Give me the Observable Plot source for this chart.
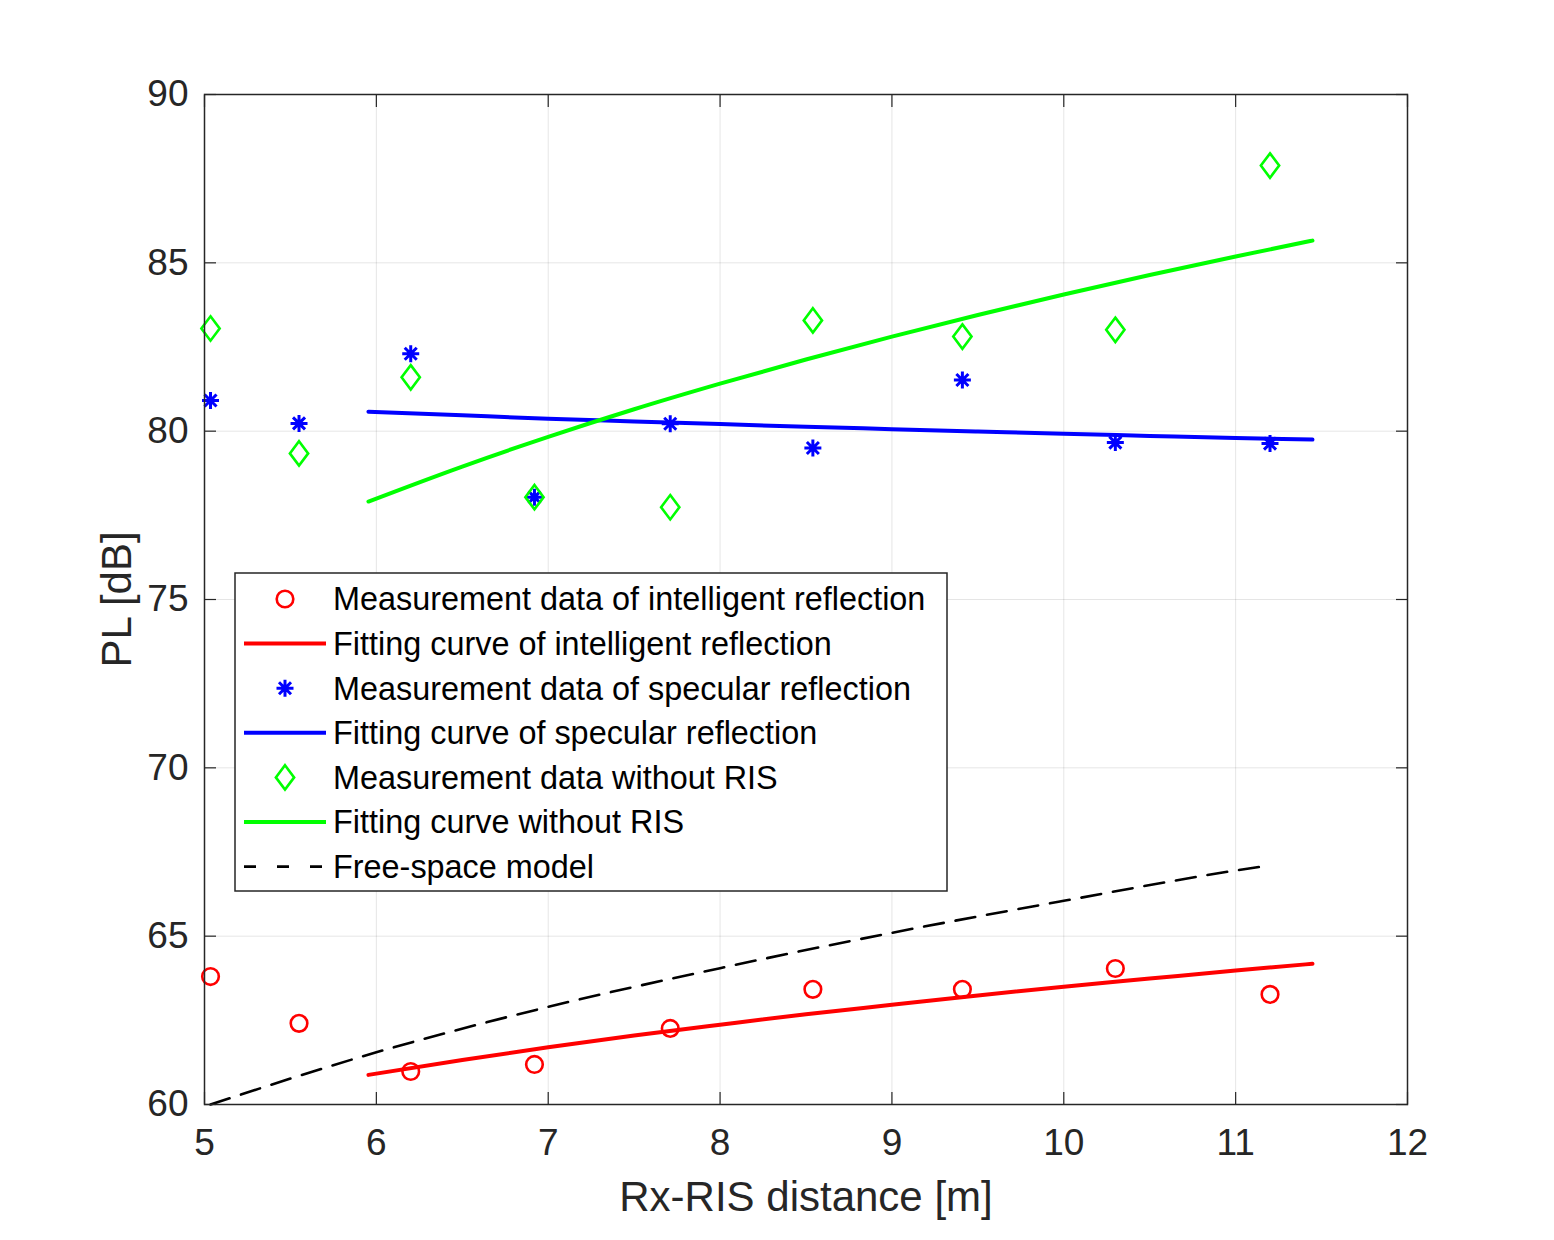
<!DOCTYPE html>
<html>
<head>
<meta charset="utf-8">
<script src="https://cdn.jsdelivr.net/npm/d3@7"></script>
<script src="https://cdn.jsdelivr.net/npm/@observablehq/plot@0.6"></script>
<style>
  html, body { margin: 0; padding: 0; background: #fff; }
  #chart { width: 1554px; height: 1240px; }
</style>
</head>
<body>
<div id="chart"></div>
<script>
// ---- data ----
const xTicks = [5, 6, 7, 8, 9, 10, 11, 12];
const yTicks = [60, 65, 70, 75, 80, 85, 90];

const distance = [5.035, 5.55, 6.2, 6.92, 7.71, 8.54, 9.41, 10.3, 11.2];
const plIntelligent = [63.80, 62.41, 60.98, 61.19, 62.26, 63.42, 63.42, 64.04, 63.27];
const plSpecular = [80.91, 80.23, 82.30, 78.04, 80.22, 79.50, 81.52, 79.66, 79.63];
const plNoRis = [83.05, 79.34, 81.60, 78.04, 77.74, 83.29, 82.81, 83.01, 87.89];

const fitX = [5.954, 6.5, 7, 7.5, 8, 8.5, 9, 9.5, 10, 10.5, 11, 11.447];
const fitIntelligent = [60.88, 61.32, 61.70, 62.05, 62.37, 62.68, 62.96, 63.24, 63.50, 63.74, 63.98, 64.18];
const fitSpecular = [80.58, 80.47, 80.37, 80.29, 80.21, 80.13, 80.06, 79.99, 79.92, 79.86, 79.80, 79.75];
const fitNoRis = [77.91, 78.95, 79.83, 80.65, 81.41, 82.13, 82.81, 83.45, 84.06, 84.64, 85.19, 85.66];

const fsX = [5.035, 6, 7, 8, 9, 10, 11, 11.17];
const fsY = [60.0, 61.55, 62.9, 64.05, 65.1, 66.05, 66.95, 67.08];

const legendLabels = [
  "Measurement data of intelligent reflection",
  "Fitting curve of intelligent reflection",
  "Measurement data of specular reflection",
  "Fitting curve of specular reflection",
  "Measurement data without RIS",
  "Fitting curve without RIS",
  "Free-space model"
];

// ---- tables ----
const pts = (xs, ys) => xs.map((x, i) => ({x, y: ys[i]}));
const measI = pts(distance, plIntelligent);
const measS = pts(distance, plSpecular);
const measN = pts(distance, plNoRis);
const fitI = pts(fitX, fitIntelligent);
const fitS = pts(fitX, fitSpecular);
const fitN = pts(fitX, fitNoRis);
const fs = pts(fsX, fsY);

const RED = "#ff0000", BLUE = "#0000ff", GREEN = "#00ff00", AX = "#262626";
const FONT = "'Liberation Sans', Arial, Helvetica, sans-serif";

// custom MATLAB-like symbols
const asterisk = {
  draw(ctx, size) {
    const r = Math.sqrt(size / Math.PI);
    for (let k = 0; k < 4; k++) {
      const a = k * Math.PI / 4;
      const dx = r * Math.cos(a), dy = r * Math.sin(a);
      ctx.moveTo(-dx, -dy); ctx.lineTo(dx, dy);
    }
  }
};
const diamond = {
  draw(ctx, size) {
    const r = Math.sqrt(size / Math.PI);
    const h = r * 1.4, w = r * 1.05;
    ctx.moveTo(0, -h); ctx.lineTo(w, 0); ctx.lineTo(0, h); ctx.lineTo(-w, 0); ctx.closePath();
  }
};

const chart = Plot.plot({
  width: 1554,
  height: 1240,
  marginLeft: 204,
  marginRight: 147,
  marginTop: 94,
  marginBottom: 136,
  style: {fontFamily: FONT, background: "#fff", color: AX},
  x: {domain: [5, 12], ticks: xTicks},
  y: {domain: [60, 90], ticks: yTicks},
  marks: [
    Plot.gridX(xTicks, {stroke: "#000", strokeOpacity: 0.1, strokeWidth: 1}),
    Plot.gridY(yTicks, {stroke: "#000", strokeOpacity: 0.1, strokeWidth: 1}),
    Plot.line(fs, {x: "x", y: "y", stroke: "#000", strokeWidth: 2.6, strokeDasharray: "20,12", curve: "monotone-x"}),
    Plot.line(fitI, {x: "x", y: "y", stroke: RED, strokeWidth: 4, curve: "monotone-x"}),
    Plot.line(fitS, {x: "x", y: "y", stroke: BLUE, strokeWidth: 4, curve: "monotone-x"}),
    Plot.line(fitN, {x: "x", y: "y", stroke: GREEN, strokeWidth: 4, curve: "monotone-x"}),
    Plot.dot(measI, {x: "x", y: "y", r: 8.3, stroke: RED, strokeWidth: 2.6, fill: "none"}),
    Plot.dot(measS, {x: "x", y: "y", r: 8.5, symbol: asterisk, stroke: BLUE, strokeWidth: 3, fill: "none"}),
    Plot.dot(measN, {x: "x", y: "y", r: 8.7, symbol: diamond, stroke: GREEN, strokeWidth: 2.6, fill: "none"}),
    Plot.frame({stroke: AX, strokeWidth: 1.5}),
    // inward ticks
    Plot.axisX(xTicks, {anchor: "bottom", tickSize: 12, dy: -12, tickFormat: () => "", stroke: AX, strokeWidth: 1.2, label: null}),
    Plot.axisX(xTicks, {anchor: "top", tickSize: 12, dy: 12, tickFormat: () => "", stroke: AX, strokeWidth: 1.2, label: null}),
    Plot.axisY(yTicks, {anchor: "left", tickSize: 12, dx: 12, tickFormat: () => "", stroke: AX, strokeWidth: 1.2, label: null}),
    Plot.axisY(yTicks, {anchor: "right", tickSize: 12, dx: -12, tickFormat: () => "", stroke: AX, strokeWidth: 1.2, label: null}),
    // tick labels
    Plot.axisX(xTicks, {anchor: "bottom", tickSize: 0, tickPadding: 24, fontSize: 37, fill: AX, label: null, tickFormat: d => String(d)}),
    Plot.axisY(yTicks, {anchor: "left", tickSize: 0, tickPadding: 16, fontSize: 37, fill: AX, label: null, tickFormat: d => String(d)}),
    // axis titles
    Plot.text(["Rx-RIS distance [m]"], {text: d => d, frameAnchor: "bottom", textAnchor: "middle", lineAnchor: "middle", dy: 93, fontSize: 42, fill: AX}),
    Plot.text(["PL [dB]"], {text: d => d, frameAnchor: "left", textAnchor: "middle", lineAnchor: "middle", dx: -87, rotate: -90, fontSize: 42, fill: AX})
  ]
});

document.getElementById("chart").appendChild(chart);

// ---- legend (inside the axes) ----
const svg = d3.select(chart);
const lg = svg.append("g").attr("font-family", FONT).attr("text-anchor", "start");
const box = {x: 235, y: 573, w: 712, h: 318};
lg.append("rect").attr("x", box.x).attr("y", box.y).attr("width", box.w).attr("height", box.h)
  .attr("fill", "#fff").attr("stroke", AX).attr("stroke-width", 1.5);
const rowY = i => 599 + i * 44.6;
const mx = 285, lx1 = 244, lx2 = 326, tx = 333;
const entries = [
  {type: "sym", sym: d3.symbolCircle, color: RED, r: 8.3, sw: 2.6},
  {type: "line", color: RED},
  {type: "sym", sym: asterisk, color: BLUE, r: 8.5, sw: 3},
  {type: "line", color: BLUE},
  {type: "sym", sym: diamond, color: GREEN, r: 8.7, sw: 2.6},
  {type: "line", color: GREEN},
  {type: "dash", color: "#000"}
];
entries.forEach((e, i) => {
  const y = rowY(i);
  if (e.type === "sym") {
    lg.append("path").attr("d", d3.symbol(e.sym, Math.PI * e.r * e.r)())
      .attr("transform", `translate(${mx},${y})`)
      .attr("fill", "none").attr("stroke", e.color).attr("stroke-width", e.sw);
  } else {
    lg.append("line").attr("x1", lx1).attr("x2", lx2).attr("y1", y).attr("y2", y)
      .attr("stroke", e.color).attr("stroke-width", e.type === "dash" ? 2.6 : 4)
      .attr("stroke-dasharray", e.type === "dash" ? "12,21" : null);
  }
  lg.append("text").attr("x", tx).attr("y", y).attr("dy", "0.35em")
    .attr("text-anchor", "start")
    .attr("font-size", 32.4).attr("fill", "#000").text(legendLabels[i]);
});
</script>
</body>
</html>
